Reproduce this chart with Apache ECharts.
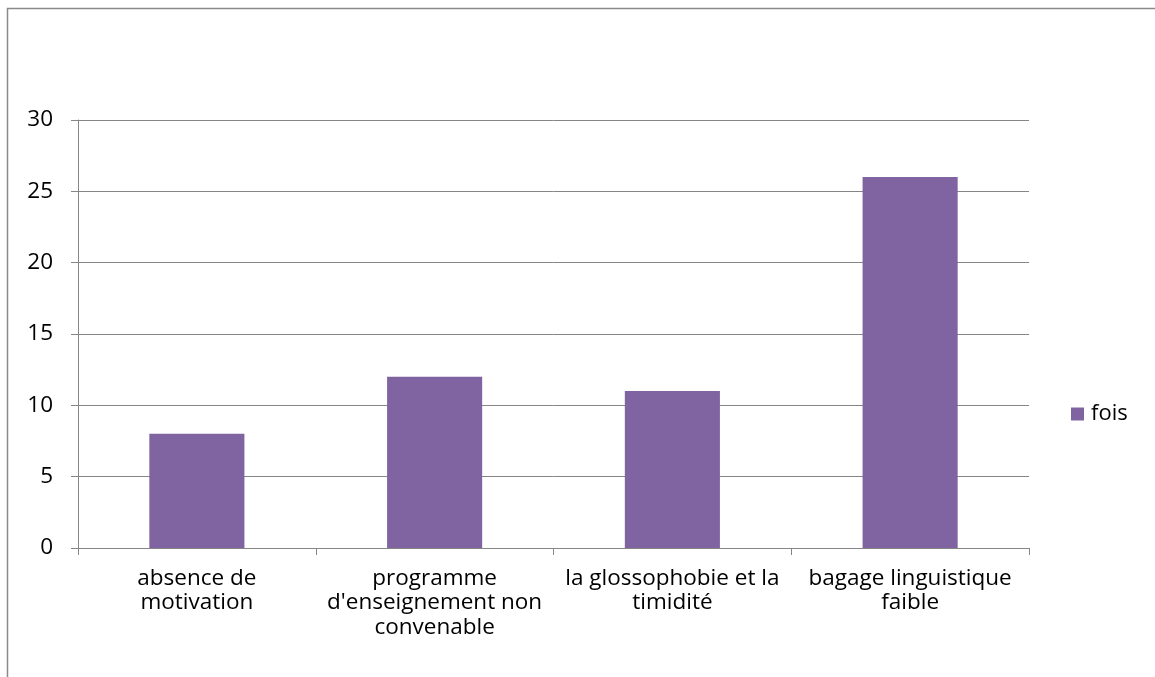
<!DOCTYPE html>
<html>
<head>
<meta charset="utf-8">
<script src="https://cdn.jsdelivr.net/npm/echarts@6/dist/echarts.min.js"></script>
<style>
html,body{margin:0;padding:0;background:#fff;}
#c{width:1155px;height:677px;}
</style>
</head>
<body>
<div id="c"></div>
<script>
const categories = [
  "absence de\nmotivation",
  "programme\nd'enseignement non\nconvenable",
  "la glossophobie et la\ntimidité",
  "bagage linguistique\nfaible"
];
const seriesName = "fois";
const values = [8, 12, 11, 26];
const yTicks = [0, 5, 10, 15, 20, 25, 30];

const chart = echarts.init(document.getElementById('c'));
const font = "'Open Sans', 'Liberation Sans', sans-serif";
chart.setOption({
  animation: false,
  backgroundColor: '#fff',
  textStyle: { fontFamily: font },
  graphic: [{
    type: 'rect',
    shape: { x: 7.5, y: 8.5, width: 1300, height: 800 },
    style: { fill: 'none', stroke: '#8a8a8a', lineWidth: 1.5 },
    silent: true
  }],
  grid: { left: 78, right: 126, top: 120, bottom: 129 },
  legend: {
    data: [seriesName],
    orient: 'vertical',
    left: 1066,
    top: 398,
    itemWidth: 13,
    itemHeight: 13,
    itemGap: 6,
    textStyle: { fontSize: 22, color: '#000', fontFamily: font, padding: [0, 0, 0, 2] },
    icon: 'rect'
  },
  xAxis: {
    type: 'category',
    data: categories,
    axisLine: { lineStyle: { color: '#868686', width: 1 } },
    axisTick: { show: true, length: 7, alignWithLabel: false, lineStyle: { color: '#868686' } },
    axisLabel: { interval: 0, fontSize: 22.5, color: '#000', lineHeight: 24.5, margin: 18, fontFamily: font }
  },
  yAxis: {
    type: 'value',
    min: yTicks[0],
    max: yTicks[yTicks.length - 1],
    interval: 5,
    axisLine: { show: true, lineStyle: { color: '#868686', width: 1 } },
    axisTick: { show: true, length: 7, lineStyle: { color: '#868686' } },
    axisLabel: { fontSize: 22.5, color: '#000', margin: 25, fontFamily: font },
    splitLine: { show: true, lineStyle: { color: '#868686', width: 1 } }
  },
  series: [{
    name: seriesName,
    type: 'bar',
    data: values,
    barWidth: '40%',
    itemStyle: { color: '#8064A2' }
  }]
});
</script>
</body>
</html>
